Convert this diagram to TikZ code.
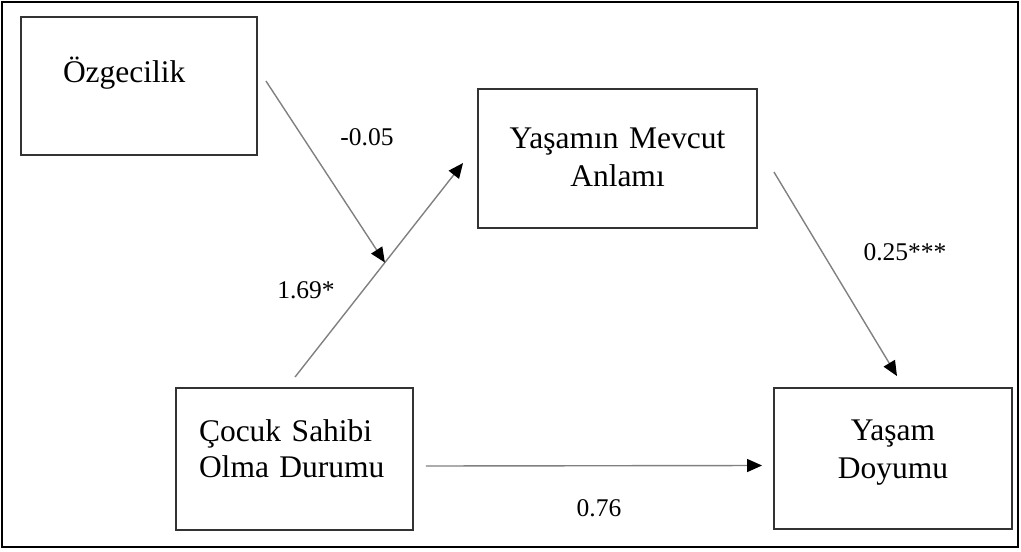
\documentclass[tikz,border=0pt]{standalone}
\usepackage{fontspec}
\setmainfont{Liberation Serif}
\usepackage{tikz}
\usetikzlibrary{arrows.meta}
\tikzstyle{kutu} = [draw=black!80, line width=1.9pt, rectangle, inner ysep=0pt, font=\fontsize{31.5}{38}\selectfont]
\tikzstyle{ok} = [draw=black!50, line width=1.4pt, -{Triangle[length=15pt,width=13pt,color=black]}]
\tikzstyle{katsayi} = [anchor=base, inner sep=0pt, font=\fontsize{25.5}{30}\selectfont]

\begin{document}
\begin{tikzpicture}[x=1pt,y=-1pt]
		\useasboundingbox (0,0) rectangle (1021,552);
		\draw[line width=2.2pt] (2,2) rectangle (1018,547);
		% kutular
		\node[kutu, inner xsep=42pt, text width=152pt, align=left, text height=65pt, text depth=73pt] (ozg) at (139,86) {Özgecilik};
		\node[kutu, inner xsep=10pt, text width=259pt, align=center, text height=59pt, text depth=80pt] (anlam) at (617.5,158.5) {Yaşamın Mevcut\\Anlamı};
		\node[kutu, inner xsep=10pt, text width=218pt, align=center, text height=52pt, text depth=89pt] (doyum) at (893,458.5) {Yaşam\\Doyumu};
		\node[kutu, inner xsep=23pt, text width=191pt, align=left, text height=53pt, text depth=89pt, font=\fontsize{31.5}{36}\selectfont] (cocuk) at (294.5,459) {Çocuk Sahibi\\Olma Durumu};
		% oklar
		\draw[ok] ([xshift=0.5pt,yshift=10pt]cocuk.north) -- ([xshift=-14pt,yshift=-4.5pt]anlam.west) coordinate[pos=0.535] (kesisim);
		\draw[ok] ([xshift=8pt,yshift=5pt]ozg.east) -- (kesisim);
		\draw[ok] ([xshift=16pt,yshift=-13.5pt]anlam.east) -- ([xshift=4pt,yshift=11pt]doyum.north);
		\draw[ok] ([xshift=12pt,yshift=-7pt]cocuk.east) -- ([xshift=-11pt,yshift=-7pt]doyum.west);
		% katsayilar
		\node[katsayi] (k1) at (367,145) {-0.05};
		\node[katsayi] (k2) at (306,298) {1.69*};
		\node[katsayi] (k3) at (905,260) {0.25***};
		\node[katsayi] (k4) at (599,516) {0.76};
\end{tikzpicture}
\end{document}
